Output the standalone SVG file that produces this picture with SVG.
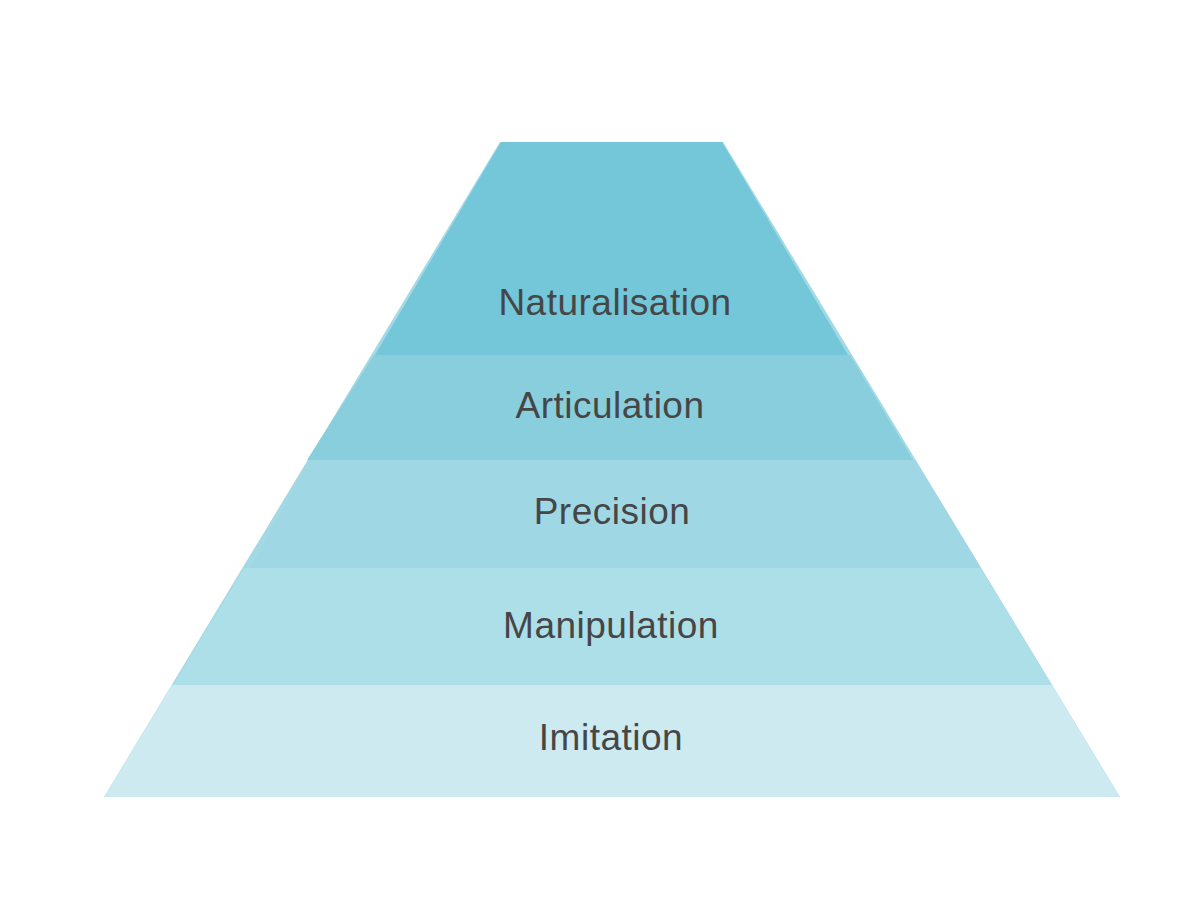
<svg xmlns="http://www.w3.org/2000/svg" width="1200" height="916" viewBox="0 0 1200 916">
<style>
.lbl{font-family:"Liberation Sans",Arial,sans-serif;font-size:37px;letter-spacing:0.5px;fill:#464646;text-anchor:middle}
</style>
<rect width="1200" height="916" fill="#ffffff"/>
<polygon id="envelope" points="500,142 723,142 1120,797 104,797" fill="#a3d9e5"/>
<g id="imitation">
<polygon points="171.7,685 1052,685 1120,797 104,797" fill="#cceaf0"/>
<text class="lbl" x="611" y="750">Imitation</text>
</g>
<g id="manipulation">
<polygon points="244,568 981,568 1052,685 173,685" fill="#addfe8"/>
<text class="lbl" x="611" y="638">Manipulation</text>
</g>
<g id="precision">
<polygon points="309,460 915,460 981,568 250,568" fill="#9fd8e4"/>
<text class="lbl" x="612" y="524">Precision</text>
</g>
<g id="articulation">
<polygon points="374,355 850,355 913,460 307,460" fill="#88cedd"/>
<text class="lbl" x="610" y="418">Articulation</text>
</g>
<g id="naturalisation">
<polygon points="501,142 722,142 848,355 375,355" fill="#73c7d8"/>
<text class="lbl" x="615" y="315">Naturalisation</text>
</g>
<g id="connectors"/>
</svg>
